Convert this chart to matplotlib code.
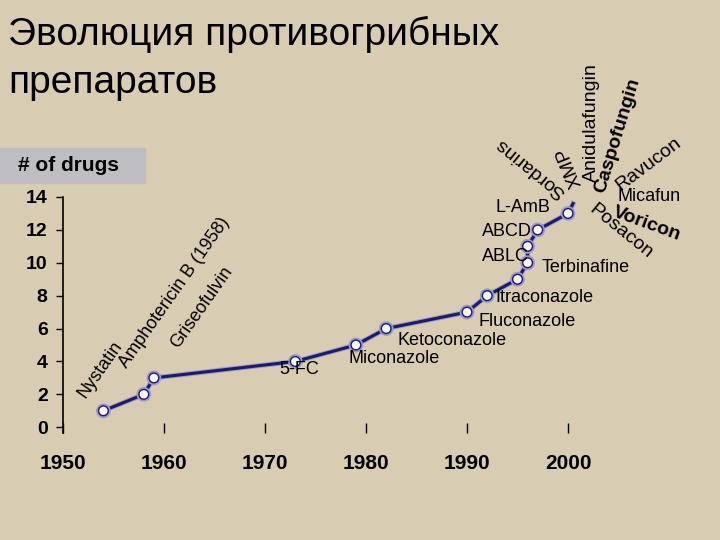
import matplotlib
matplotlib.use("Agg")
import matplotlib.pyplot as plt
import matplotlib.patheffects as pe
from matplotlib.patches import Rectangle

plt.rcParams["font.family"] = ["Liberation Sans", "DejaVu Sans"]

# drug approvals: year vs cumulative number of drugs
years = [1954, 1958, 1959, 1973, 1979, 1982, 1990, 1992, 1995, 1996, 1996, 1997, 2000, 2000.5]
counts = [1, 2, 3, 4, 5, 6, 7, 8, 9, 10, 11, 12, 13, 13.6]

# horizontal labels: (text, year, value)
flat_labels = [
    ("5-FC", 1971.4, 3.5),
    ("Miconazole", 1978.3, 4.2),
    ("Ketoconazole", 1983.1, 5.3),
    ("Fluconazole", 1991.1, 6.45),
    ("Itraconazole", 1992.8, 7.9),
    ("Terbinafine", 1997.4, 9.7),
    ("ABLC", 1991.5, 10.4),
    ("ABCD", 1991.5, 11.9),
    ("L-AmB", 1992.8, 13.35),
    ("Micafun", 2004.9, 14.0),
]

# early drugs, rotated, centred: (text, year, value)
early_labels = [
    ("Nystatin", 1953.7, 3.5),
    ("Amphotericin B (1958)", 1961.0, 8.2),
    ("Griseofulvin", 1963.7, 7.3),
]

# fan of newer drugs, anchored at the start: (text, year, value, angle, bold)
fan_labels = [
    ("Sordarins", 1999.5, 14.15, 141, False),
    ("XMP", 2000.9, 14.6, 112, False),
    ("Anidulafungin", 2002.3, 14.9, 90, False),
    ("Caspofungin", 2003.2, 14.3, 73, True),
    ("Ravucon", 2004.9, 14.6, 37, False),
    ("Voricon", 2004.5, 13.1, -20, True),
    ("Posacon", 2002.3, 13.35, -39, False),
]

BG = "#d8ccb2"
NAVY = "#1c1c66"

fig = plt.figure(figsize=(7.2, 5.4), dpi=100, facecolor=BG)

fig.text(8 / 720, 1 - 45 / 540, "Эволюция противогрибных", fontsize=28, va="baseline")
fig.text(8 / 720, 1 - 93 / 540, "препаратов", fontsize=28, va="baseline")

fig.patches.append(Rectangle((0, 1 - 183 / 540), 145 / 720, 35 / 540,
                             transform=fig.transFigure, color="#bdbdc2", zorder=0))
fig.text(18 / 720, 1 - 166 / 540, "# of drugs", fontsize=15, fontweight="bold", va="center")

ax = fig.add_axes([63 / 720, 1 - 433 / 540, 606 / 720, 236 / 540])
ax.set_facecolor("none")
ax.set_xlim(1950, 2010)
ax.set_ylim(-0.35, 14)

ax.plot(years, counts, color=NAVY, lw=2.2, marker="o", ms=7,
        mfc="#f4f4fa", mec=NAVY, mew=1.0, markevery=list(range(len(years) - 1)),
        path_effects=[pe.Stroke(linewidth=3.6, foreground="#9a9ad0"), pe.Normal()],
        clip_on=False, zorder=3)

for txt, x, y in flat_labels:
    ax.text(x, y, txt, fontsize=13, ha="left", va="center", clip_on=False)

for txt, x, y in early_labels:
    ax.text(x, y, txt, fontsize=13, ha="center", va="center", rotation=55,
            rotation_mode="anchor", clip_on=False)

for txt, x, y, ang, bold in fan_labels:
    ax.text(x, y, txt, fontsize=14, ha="left", va="center", rotation=ang,
            rotation_mode="anchor", fontweight="bold" if bold else "normal", clip_on=False)

for s in ["top", "right", "bottom"]:
    ax.spines[s].set_visible(False)
ax.spines["left"].set_linewidth(1.2)
ax.spines["left"].set_bounds(-0.35, 14)

ax.set_yticks(range(0, 15, 2))
ax.set_xticks(range(1950, 2001, 10))
ax.tick_params(axis="y", direction="out", length=5, width=1, pad=6, labelsize=14)
ax.tick_params(axis="x", direction="in", length=7, width=1, pad=15, labelsize=15)
for lab in ax.get_xticklabels() + ax.get_yticklabels():
    lab.set_fontweight("bold")

fig.savefig("out.png", dpi=100, facecolor=BG)
